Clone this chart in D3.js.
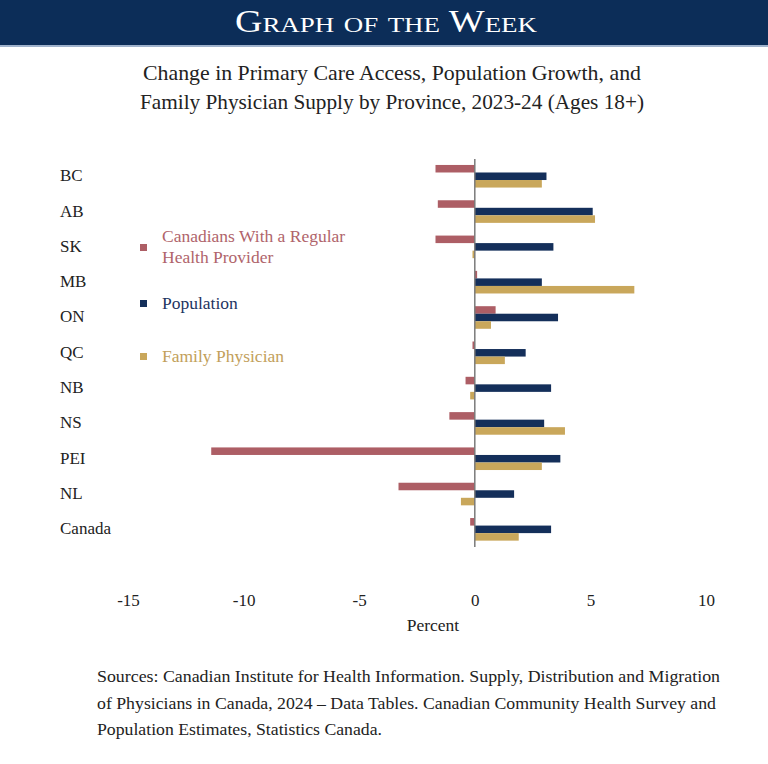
<!DOCTYPE html>
<html>
<head>
<meta charset="utf-8">
<script src="https://cdn.jsdelivr.net/npm/d3@7"></script>
<style>
  html, body { margin: 0; padding: 0; background: #fff; }
  svg { display: block; font-family: "Liberation Serif", "DejaVu Serif", serif; }
</style>
</head>
<body>
<svg id="chart" width="768" height="764"></svg>
<script>
// provinces, top to bottom
const provinces = ["BC", "AB", "SK", "MB", "ON", "QC", "NB", "NS", "PEI", "NL", "Canada"];
const seriesNames = ["Canadians With a Regular Health Provider", "Population", "Family Physician"];
const regularProvider = [-1.7, -1.6, -1.7, 0.1, 0.9, -0.1, -0.4, -1.1, -11.4, -3.3, -0.2];
const population = [3.1, 5.1, 3.4, 2.9, 3.6, 2.2, 3.3, 3.0, 3.7, 1.7, 3.3];
const familyPhysician = [2.9, 5.2, -0.1, 6.9, 0.7, 1.3, -0.2, 3.9, 2.9, -0.6, 1.9];
const xTicks = [-15, -10, -5, 0, 5, 10];
const titleLines = [
  "Change in Primary Care Access, Population Growth, and",
  "Family Physician Supply by Province, 2023-24 (Ages 18+)"
];
const sourceLines = [
  "Sources: Canadian Institute for Health Information. Supply, Distribution and Migration",
  "of Physicians in Canada, 2024 \u2013 Data Tables. Canadian Community Health Survey and",
  "Population Estimates, Statistics Canada."
];

const colors = ["#ad5e65", "#142f5a", "#c9a75b"];
const textColors = ["#b0646b", "#1d3461", "#c2a05a"];

const svg = d3.select("#chart");

// header banner
svg.append("rect").attr("x", 0).attr("y", 0).attr("width", 768).attr("height", 45).attr("fill", "#0c2d58");
svg.append("rect").attr("x", 0).attr("y", 45).attr("width", 768).attr("height", 2).attr("fill", "#9fb2cc");
svg.append("text")
  .attr("x", 386).attr("y", 32)
  .attr("text-anchor", "middle")
  .attr("fill", "#fff")
  .attr("textLength", 302)
  .attr("lengthAdjust", "spacingAndGlyphs")
  .style("font-size", "31px")
  .style("font-variant", "small-caps")
  .text("Graph of the Week");

// title
const titleWidths = [498, 504];
svg.append("g").selectAll("text")
  .data(titleLines)
  .enter().append("text")
  .attr("x", 392)
  .attr("y", (d, i) => 80 + i * 29)
  .attr("text-anchor", "middle")
  .attr("fill", "#222")
  .attr("textLength", (d, i) => titleWidths[i])
  .attr("lengthAdjust", "spacingAndGlyphs")
  .style("font-size", "21.5px")
  .text(d => d);

const x = d3.scaleLinear().domain([-15, 10]).range([128, 706]);
const y = d3.scaleBand().domain(provinces).range([158.6, 547]).paddingInner(0.36).paddingOuter(0.18);
const ySub = d3.scaleBand().domain(d3.range(3)).range([0, y.bandwidth()]);

const rows = provinces.map((p, i) => ({
  name: p,
  values: [regularProvider[i], population[i], familyPhysician[i]]
}));

const groups = svg.append("g").selectAll("g")
  .data(rows)
  .enter().append("g")
  .attr("transform", d => `translate(0,${y(d.name)})`);

groups.selectAll("rect")
  .data(d => d.values)
  .enter().append("rect")
  .attr("x", d => x(Math.min(0, d)))
  .attr("y", (d, i) => ySub(i))
  .attr("width", d => Math.abs(x(d) - x(0)))
  .attr("height", ySub.bandwidth())
  .attr("fill", (d, i) => colors[i]);

// zero line
svg.append("line")
  .attr("x1", x(0)).attr("x2", x(0))
  .attr("y1", 159).attr("y2", 547)
  .attr("stroke", "#7a7a7a")
  .attr("stroke-width", 1.5);

// province labels
svg.append("g").selectAll("text")
  .data(provinces)
  .enter().append("text")
  .attr("x", 60)
  .attr("y", d => y(d) + y.bandwidth() / 2 + 5)
  .attr("fill", "#222")
  .style("font-size", "17px")
  .text(d => d);

// x axis (labels only)
const xAxis = svg.append("g")
  .attr("transform", "translate(0,594)")
  .call(d3.axisBottom(x).tickValues(xTicks).tickSize(0).tickPadding(0).tickFormat(d => String(d)));
xAxis.select(".domain").remove();
xAxis.selectAll("text")
  .attr("fill", "#222")
  .style("font-family", "Liberation Serif, serif")
  .style("font-size", "17px");

svg.append("text")
  .attr("x", 433).attr("y", 631)
  .attr("text-anchor", "middle")
  .attr("fill", "#222")
  .style("font-size", "17.5px")
  .text("Percent");

// legend
const legendItems = [
  { lines: ["Canadians With a Regular", "Health Provider"], y: 237 },
  { lines: ["Population"], y: 304 },
  { lines: ["Family Physician"], y: 357 }
];
const legend = svg.append("g").selectAll("g")
  .data(legendItems)
  .enter().append("g");
legend.append("rect")
  .attr("x", 140)
  .attr("y", (d, i) => (i === 0 ? d.y + 11 : d.y) - 4)
  .attr("width", 7).attr("height", 7)
  .attr("fill", (d, i) => colors[i]);
legend.each(function(d, i) {
  d3.select(this).selectAll("text")
    .data(d.lines)
    .enter().append("text")
    .attr("x", 162)
    .attr("y", (t, j) => d.y + 5 + j * 21)
    .attr("fill", textColors[i])
    .style("font-size", "17.5px")
    .text(t => t);
});

// sources
const sourceWidths = [623, 619, 285];
svg.append("g").selectAll("text")
  .data(sourceLines)
  .enter().append("text")
  .attr("x", 97)
  .attr("y", (d, i) => 682 + i * 26.5)
  .attr("fill", "#222")
  .attr("textLength", (d, i) => sourceWidths[i])
  .attr("lengthAdjust", "spacingAndGlyphs")
  .style("font-size", "17px")
  .text(d => d);
</script>
</body>
</html>
